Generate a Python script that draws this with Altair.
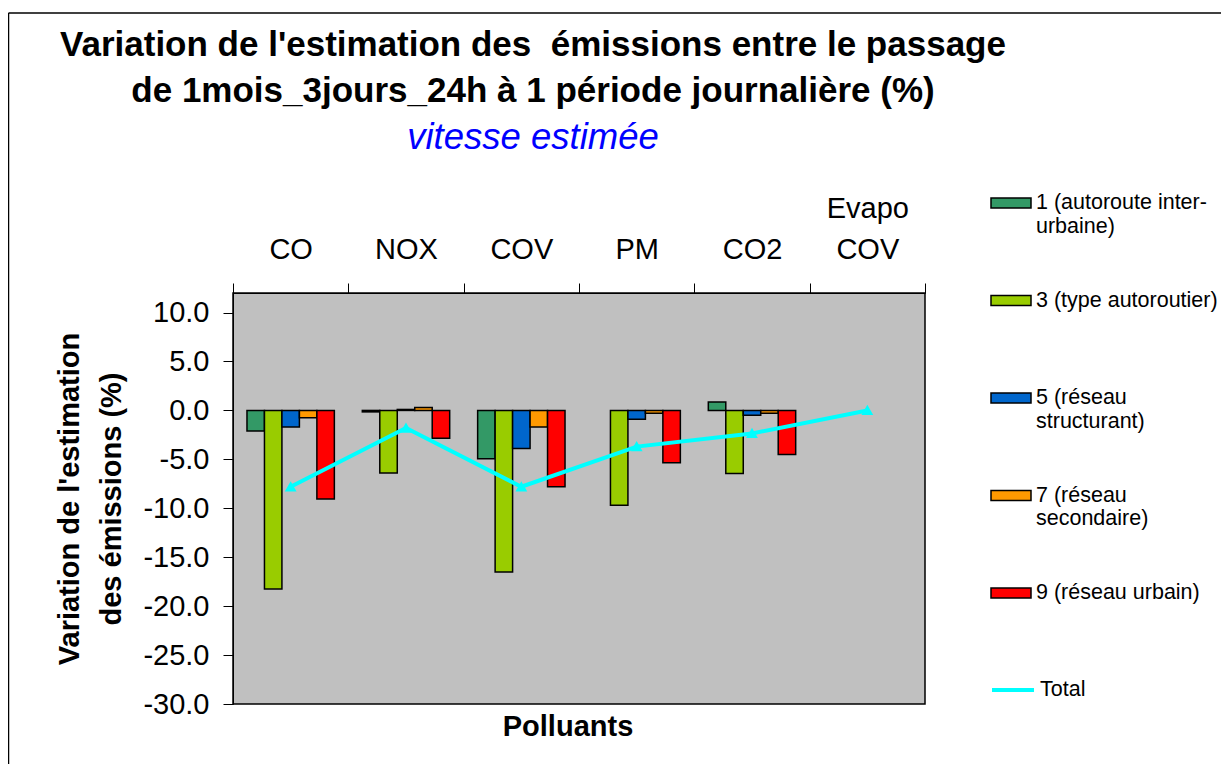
import altair as alt
import pandas as pd

FONT = "Liberation Sans"

categories = ["CO", "NOX", "COV", "PM", "CO2", "Evapo COV"]
series = [
    "1 (autoroute inter-urbaine)",
    "3 (type autoroutier)",
    "5 (réseau structurant)",
    "7 (réseau secondaire)",
    "9 (réseau urbain)",
]
colors = ["#339966", "#99CC00", "#0066CC", "#FF9900", "#FF0000"]

v1 = [-2.1, -0.15, -4.95, None, 0.85, None]
v3 = [-18.25, -6.4, -16.5, -9.7, -6.45, None]
v5 = [-1.7, 0.1, -3.9, -0.9, -0.5, None]
v7 = [-0.75, 0.3, -1.7, -0.3, -0.3, None]
v9 = [-9.05, -2.85, -7.8, -5.35, -4.5, None]
total = [-7.8, -1.8, -7.8, -3.7, -2.35, 0.0]

y_ticks = [-30, -25, -20, -15, -10, -5, 0, 5, 10]

legend_lines = {
    series[0]: ["1 (autoroute inter-", "urbaine)"],
    series[1]: ["3 (type autoroutier)", ""],
    series[2]: ["5 (réseau", "structurant)"],
    series[3]: ["7 (réseau", "secondaire)"],
    series[4]: ["9 (réseau urbain)", ""],
}

rows = []
for s, vals in zip(series, [v1, v3, v5, v7, v9]):
    for c, v in zip(categories, vals):
        if v is not None:
            rows.append({"Polluant": c, "Série": s, "Valeur": v})
bars_df = pd.DataFrame(rows)
total_df = pd.DataFrame({"Polluant": categories, "Série": ["Total"] * len(categories), "Valeur": total})

expr = "datum.label"
for name, lines in reversed(list(legend_lines.items())):
    arr = "[" + ", ".join("'" + l + "'" for l in lines) + "]"
    expr = f"datum.label == '{name}' ? {arr} : ({expr})"

x_label_expr = ("indexof(datum.label, ' ') >= 0 ? split(datum.label, ' ') : ['', datum.label]")

x_enc = alt.X(
    "Polluant:N",
    sort=categories,
    scale=alt.Scale(domain=categories, paddingInner=0, paddingOuter=0),
    axis=alt.Axis(
        orient="top", title=None, labelAngle=0, labelFontSize=29, labelFont=FONT,
        labelColor="black", labelPadding=60, labelLineHeight=41, tickBand="extent",
        tickSize=10, tickColor="black", domainColor="black", grid=False,
        labelExpr=x_label_expr,
    ),
)
y_enc = alt.Y(
    "Valeur:Q",
    scale=alt.Scale(domain=[-30, 12], nice=False, zero=False),
    axis=alt.Axis(
        values=y_ticks, labelExpr="(datum.value < 0 ? '-' : '') + format(abs(datum.value), '.1f')",
        labelFontSize=29, labelFont=FONT, labelColor="black", grid=False,
        labelPadding=14, tickSize=10, tickColor="black", domainColor="black",
        title=["Variation de l'estimation", "des émissions (%)"], titleFontSize=29,
        titleFont=FONT, titleFontWeight="bold", titleColor="black", titleLineHeight=42,
        titlePadding=16,
    ),
)

bars = alt.Chart(bars_df).mark_bar(stroke="black", strokeWidth=1.5).encode(
    x=x_enc,
    xOffset=alt.XOffset("Série:N", sort=series,
                        scale=alt.Scale(domain=series, paddingOuter=0.8, paddingInner=0)),
    y=y_enc,
    fill=alt.Fill(
        "Série:N", sort=series, scale=alt.Scale(domain=series, range=colors),
        legend=alt.Legend(
            orient="none", legendX=757, legendY=-111, title=None, direction="vertical",
            symbolType="M-1,-0.25H1V0.25H-1Z", symbolSize=1600, symbolStrokeColor="black",
            symbolStrokeWidth=1.5, symbolOpacity=1, labelFontSize=21.5, labelFont=FONT,
            labelColor="black", labelLimit=400, labelOffset=4, rowPadding=42.5,
            labelBaseline="middle", padding=0, labelExpr=expr,
        ),
    ),
)

line = alt.Chart(total_df).mark_line(
    strokeWidth=4,
    point=alt.OverlayMarkDef(shape="triangle-up", size=70, filled=True, color="#00FFFF"),
).encode(
    x=alt.X("Polluant:N", sort=categories),
    y=alt.Y("Valeur:Q"),
    stroke=alt.Stroke(
        "Série:N", scale=alt.Scale(domain=["Total"], range=["#00FFFF"]),
        legend=alt.Legend(
            orient="none", legendX=757, legendY=374, title=None, symbolType="stroke",
            symbolSize=1764, symbolStrokeWidth=4, labelFontSize=21.5, labelFont=FONT,
            labelColor="black", labelOffset=4, padding=0,
        ),
    ),
)

xtitle = alt.Chart(pd.DataFrame({"t": ["Polluants"]})).mark_text(
    fontSize=29, fontWeight="bold", font=FONT, color="black", baseline="middle"
).encode(text="t:N", x=alt.value(335), y=alt.value(434))

frame_df = pd.DataFrame({"k": [0]})
frame_left = alt.Chart(frame_df).mark_rule(color="black", strokeWidth=1.5).encode(
    x=alt.value(-224.5), y=alt.value(-280), y2=alt.value(480))
frame_top = alt.Chart(frame_df).mark_rule(color="black", strokeWidth=1.5).encode(
    x=alt.value(-224.5), x2=alt.value(1000), y=alt.value(-280))

chart = alt.layer(bars, line, xtitle, frame_left, frame_top).resolve_scale(
    fill="independent", stroke="independent"
).properties(
    width=692,
    height=411,
    background="white",
    autosize=alt.AutoSizeParams(type="none"),
    padding={"left": 225, "top": 285, "right": 296, "bottom": 60},
    title=alt.TitleParams(
        text=["Variation de l'estimation des\u00a0 émissions entre le passage",
              "de 1mois_3jours_24h à 1 période journalière (%)"],
        subtitle="vitesse estimée\u00a0\u00a0\u00a0\u00a0",
        font=FONT, fontSize=35, fontWeight="bold", color="black", lineHeight=46,
        subtitleFont=FONT, subtitleFontSize=36.5, subtitleFontStyle="italic",
        subtitleColor="#0000FF", subtitlePadding=11, anchor="middle", frame="group",
        dx=-46, offset=-144,
    ),
).configure_view(
    fill="#C0C0C0", stroke="black", strokeWidth=1.5
).configure_axis(grid=False)

chart.save("out.html", embed_options={"renderer": "svg", "actions": False})
